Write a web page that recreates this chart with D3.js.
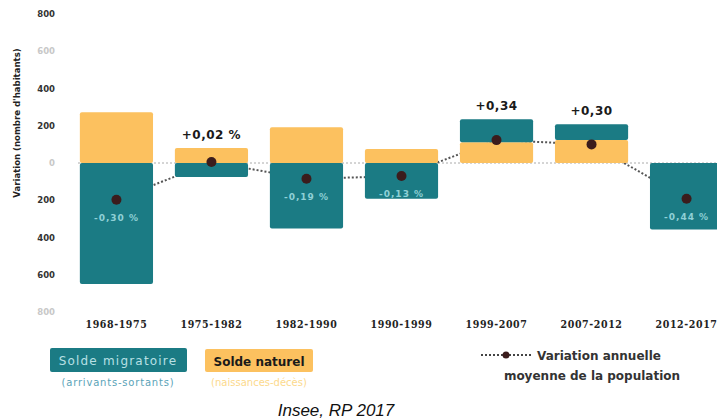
<!DOCTYPE html>
<html>
<head>
<meta charset="utf-8">
<script src="https://cdn.jsdelivr.net/npm/d3@7"></script>
<style>
  body { margin: 0; background: #fff; }
  svg { display: block; }
</style>
</head>
<body>
<div id="chart"></div>
<script>
// periods and components of population change
const periods = ["1968-1975", "1975-1982", "1982-1990", "1990-1999", "1999-2007", "2007-2012", "2012-2017"];
const migration = [-650, -75, -352, -192, 123, 85, -357];
const natural = [272, 80, 192, 75, 112, 123, 0];
const variation = [-197, 5, -85, -70, 123, 100, -192];
const variationLabels = ["-0,30 %", "+0,02 %", "-0,19 %", "-0,13 %", "+0,34", "+0,30", "-0,44 %"];
const yTicks = [800, 600, 400, 200, 0, -200, -400, -600, -800];
const faintTicks = [600, 0, -800];

const width = 717;
const height = 419;
const teal = "#1b7b84";
const orange = "#fcc15f";

const svg = d3.select("#chart")
    .append("svg")
    .attr("width", width)
    .attr("height", height);

const x = d3.scaleBand()
    .domain(periods)
    .range([58, 745])
    .padding(0.23);

const y = d3.scaleLinear()
    .domain([-800, 800])
    .range([312, 14]);

// y axis (labels only)
const yAxis = svg.append("g")
    .attr("transform", "translate(58,0)")
    .call(d3.axisLeft(y).tickValues(yTicks).tickSize(0).tickFormat(d => Math.abs(d)));
yAxis.select(".domain").remove();
yAxis.selectAll("text")
    .attr("font-family", "DejaVu Sans")
    .attr("font-weight", "bold")
    .attr("font-size", 8.5)
    .attr("fill", d => faintTicks.includes(d) ? "#c8c8c8" : "#333");

svg.append("text")
    .attr("transform", "translate(20,123) rotate(-90)")
    .attr("text-anchor", "middle")
    .attr("font-family", "DejaVu Sans Condensed")
    .attr("font-weight", "bold")
    .attr("font-size", 9.5)
    .attr("fill", "#222")
    .text("Variation (nombre d'habitants)");

// dotted baseline and variation line behind the bars
svg.append("line")
    .attr("x1", x.range()[0] + 20).attr("x2", width)
    .attr("y1", y(0)).attr("y2", y(0))
    .attr("stroke", "#aaa")
    .attr("stroke-width", 1)
    .attr("stroke-dasharray", "2,2");

const line = d3.line()
    .x((d, i) => x(periods[i]) + x.bandwidth() / 2)
    .y(d => y(d));

svg.append("path")
    .datum(variation)
    .attr("d", line)
    .attr("fill", "none")
    .attr("stroke", "#555")
    .attr("stroke-width", 2)
    .attr("stroke-dasharray", "2,2");

// bars
const bars = svg.selectAll(".bar")
    .data(periods)
    .enter()
    .append("g")
    .attr("class", "bar");

bars.each(function (p, i) {
    const g = d3.select(this);
    const n = natural[i];
    const m = migration[i];
    let segs = [];
    if (n !== 0) segs.push({ a: 0, b: n, c: orange });
    if (m < 0) segs.push({ a: 0, b: m, c: teal });
    else segs.push({ a: Math.max(n, 0), b: Math.max(n, 0) + m, c: teal });
    segs.forEach(s => {
        g.append("rect")
            .attr("x", x(p))
            .attr("width", x.bandwidth())
            .attr("y", y(Math.max(s.a, s.b)))
            .attr("height", Math.abs(y(s.a) - y(s.b)))
            .attr("rx", 2)
            .attr("fill", s.c);
    });
});

// variation dots
svg.selectAll(".dot")
    .data(variation)
    .enter()
    .append("circle")
    .attr("cx", (d, i) => x(periods[i]) + x.bandwidth() / 2)
    .attr("cy", d => y(d))
    .attr("r", 5)
    .attr("fill", "#3b1c1c");

// variation labels: inside teal when negative, above bar when positive
svg.selectAll(".vlab")
    .data(variationLabels)
    .enter()
    .append("text")
    .attr("x", (d, i) => x(periods[i]) + x.bandwidth() / 2)
    .attr("y", (d, i) => {
        if (variation[i] < 0) return y(variation[i]) + 21;
        const top = Math.max(natural[i], 0) + Math.max(migration[i], 0);
        return y(top) - 9;
    })
    .attr("text-anchor", "middle")
    .attr("font-family", "DejaVu Sans")
    .attr("font-weight", "bold")
    .attr("font-size", (d, i) => variation[i] < 0 ? 9 : 12)
    .attr("letter-spacing", (d, i) => variation[i] < 0 ? 1 : 0.5)
    .attr("fill", (d, i) => variation[i] < 0 ? "#8fd0d6" : "#1a1a1a")
    .text(d => d);

// x labels
svg.selectAll(".xlab")
    .data(periods)
    .enter()
    .append("text")
    .attr("x", d => x(d) + x.bandwidth() / 2)
    .attr("y", 328)
    .attr("text-anchor", "middle")
    .attr("font-family", "DejaVu Serif Condensed")
    .attr("font-weight", "bold")
    .attr("font-size", 10.5)
    .attr("letter-spacing", 0.6)
    .attr("fill", "#222")
    .text(d => d);

// legend
svg.append("rect").attr("x", 50).attr("y", 348).attr("width", 137).attr("height", 24).attr("rx", 2).attr("fill", teal);
svg.append("text").attr("x", 118).attr("y", 365).attr("text-anchor", "middle")
    .attr("font-family", "DejaVu Sans").attr("font-size", 12).attr("letter-spacing", 1.2)
    .attr("fill", "#b8e0e4").text("Solde migratoire");
svg.append("text").attr("x", 118).attr("y", 386).attr("text-anchor", "middle")
    .attr("font-family", "DejaVu Sans").attr("font-size", 10).attr("letter-spacing", 0.8)
    .attr("fill", "#5aa3b8").text("(arrivants-sortants)");

svg.append("rect").attr("x", 205).attr("y", 349).attr("width", 108).attr("height", 23).attr("rx", 2).attr("fill", orange);
svg.append("text").attr("x", 259).attr("y", 366).attr("text-anchor", "middle")
    .attr("font-family", "DejaVu Sans").attr("font-weight", "bold").attr("font-size", 12)
    .attr("fill", "#1a1a1a").text("Solde naturel");
svg.append("text").attr("x", 259).attr("y", 386).attr("text-anchor", "middle")
    .attr("font-family", "DejaVu Sans").attr("font-size", 10)
    .attr("fill", "#fcd98c").text("(naissances-décès)");

svg.append("line").attr("x1", 481).attr("x2", 533).attr("y1", 355).attr("y2", 355)
    .attr("stroke", "#444").attr("stroke-width", 2).attr("stroke-dasharray", "2,2");
svg.append("circle").attr("cx", 506).attr("cy", 355).attr("r", 3.5).attr("fill", "#3b1c1c");
svg.append("text").attr("x", 537).attr("y", 360)
    .attr("font-family", "DejaVu Sans").attr("font-weight", "bold").attr("font-size", 12)
    .attr("fill", "#333").text("Variation annuelle");
svg.append("text").attr("x", 592).attr("y", 380).attr("text-anchor", "middle")
    .attr("font-family", "DejaVu Sans").attr("font-weight", "bold").attr("font-size", 12)
    .attr("fill", "#333").text("moyenne de la population");

svg.append("text").attr("x", 336).attr("y", 416).attr("text-anchor", "middle")
    .attr("font-family", "Liberation Sans").attr("font-style", "italic").attr("font-size", 17)
    .attr("fill", "#111").text("Insee, RP 2017");
</script>
</body>
</html>
